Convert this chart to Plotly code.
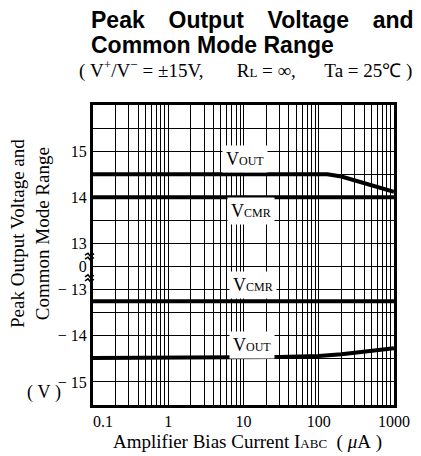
import math
import plotly.graph_objects as go

# ---------------- data ----------------
current_uA = [0.1, 1, 10, 30, 100, 130, 200, 300, 500, 700, 1000]
vout_pos = [14.5, 14.5, 14.5, 14.5, 14.5, 14.5, 14.45, 14.37, 14.27, 14.19, 14.12]
vcmr_pos = [14.0, 14.0, 14.0, 14.0, 14.0, 14.0, 14.0, 14.0, 14.0, 14.0, 14.0]
vcmr_neg = [-13.25, -13.25, -13.25, -13.25, -13.25, -13.25, -13.25, -13.25, -13.25, -13.25, -13.25]
vout_neg = [-14.48, -14.48, -14.47, -14.46, -14.44, -14.43, -14.40, -14.37, -14.33, -14.30, -14.27]

x_decades = [0.1, 1, 10, 100, 1000]
x_decade_labels = ["\u00a0\u00a0\u00a0\u00a0\u00a00.1", "1", "10", "100", "1000"]
y_label_values = [15, 14, 13, 0, -13, -14, -15]
y_label_texts = ["15", "14", "13", "0", "\u2212 13", "\u2212 14", "\u2212 15"]

# broken y axis: upper part (13..16) kept, lower part (-15.5..-13) shifted up by 25, 0 sits between
def yb(v):
    if v > 0.5:
        return v
    if v < -0.5:
        return v + 25
    return 12.5

Y_RANGE = [9.5, 16]

# page body has an 8px margin; reference pixel positions are converted by OFF
OFF = 8
W, H = 421 - OFF, 456 - OFF
L, T = 93 - OFF, 105 - OFF
R = W - (394 - OFF)
B = H - (405 - OFF)
PW, PH = W - L - R, H - T - B

def pxx(px):
    return (px - OFF - L) / PW

def pxy(py):
    return (H - B - (py - OFF)) / PH

serif = "Liberation Serif"
sans = "Liberation Sans"
NB = "\u00a0"
TS = "\u2009"

fig = go.Figure()
line_style = dict(color="black", width=4)
for ys in [vout_pos, vcmr_pos, vcmr_neg, vout_neg]:
    fig.add_trace(go.Scatter(x=current_uA, y=[yb(v) for v in ys], mode="lines",
                             line=line_style, showlegend=False, hoverinfo="skip"))

# x grid: 1..9 per decade
x_tickvals, x_ticktext = [], []
for d, lab in zip(x_decades, x_decade_labels):
    for m in range(1, 10):
        v = d * m
        if v > 1000 + 1e-9:
            break
        x_tickvals.append(v)
        x_ticktext.append(lab if m == 1 else "")

# y grid every 0.5 in broken coordinates
y_tickvals, y_ticktext = [], []
lab_map = {yb(v): t for v, t in zip(y_label_values, y_label_texts)}
k = Y_RANGE[0]
while k <= Y_RANGE[1] + 1e-9:
    y_tickvals.append(k)
    y_ticktext.append(lab_map.get(k, ""))
    k += 0.5

fig.update_xaxes(type="log", range=[-1, 3], tickvals=x_tickvals, ticktext=x_ticktext,
                 showgrid=True, gridcolor="black", gridwidth=1,
                 showline=True, linecolor="black", linewidth=3, mirror=True,
                 ticks="", tickfont=dict(family=serif, size=16, color="black"),
                 zeroline=False)
fig.update_yaxes(range=Y_RANGE, tickvals=y_tickvals, ticktext=y_ticktext,
                 showgrid=True, gridcolor="black", gridwidth=1,
                 showline=True, linecolor="black", linewidth=3, mirror=True,
                 ticks="", tickfont=dict(family=serif, size=16, color="black"),
                 zeroline=False)

# curve labels
def curve_label(text, sub, xval, yval):
    fig.add_annotation(x=math.log10(xval), y=yb(yval), xref="x", yref="y",
                       text=f"{text}<span style='font-size:12px'>{sub}</span>",
                       showarrow=False, bgcolor="white", borderpad=3,
                       font=dict(family=serif, size=18, color="black"))

curve_label("V", "OUT", 10.5, 14.83)
curve_label("V", "CMR", 12.6, 13.71)
curve_label("V", "CMR", 13.4, -12.91)
curve_label("V", "OUT", 13.0, -14.19)

# titles
gap = NB * 2 + TS
fig.add_annotation(x=pxx(89), y=pxy(20), xref="paper", yref="paper", xanchor="left", yanchor="middle",
                   text=f"<b>Peak{gap} Output{gap} Voltage{gap} and</b>", showarrow=False,
                   font=dict(family=sans, size=23, color="black"))
fig.add_annotation(x=pxx(89), y=pxy(45), xref="paper", yref="paper", xanchor="left", yanchor="middle",
                   text="<b>Common Mode Range</b>", showarrow=False,
                   font=dict(family=sans, size=23, color="black"))
fig.add_annotation(x=pxx(77), y=pxy(70), xref="paper", yref="paper", xanchor="left", yanchor="middle",
                   text=(f"({NB}V<sup>+</sup>/V<sup>\u2212</sup>{NB}={NB}\u00b115V,{NB*7}"
                         f"R<span style='font-size:13px'>L</span>{NB}={NB}\u221e,{NB*6}"
                         f"Ta{NB}={NB}25\u2103{NB})"),
                   showarrow=False, font=dict(family=serif, size=19, color="black"))

# axis titles
fig.add_annotation(x=pxx(30), y=pxy(234), xref="paper", yref="paper", xanchor="center", yanchor="middle",
                   text="Peak Output Voltage and<br>Common Mode Range", textangle=-90,
                   showarrow=False, font=dict(family=serif, size=19, color="black"))
fig.add_annotation(x=pxx(44), y=pxy(392), xref="paper", yref="paper", xanchor="center", yanchor="middle",
                   text=f"({NB}V{NB})", showarrow=False, font=dict(family=serif, size=18, color="black"))
fig.add_annotation(x=pxx(247), y=pxy(442), xref="paper", yref="paper", xanchor="center", yanchor="middle",
                   text=(f"Amplifier Bias Current I<span style='font-size:13px'>ABC</span>"
                         f"{NB*2}({NB}<i>\u03bc</i>A{NB})"),
                   showarrow=False, font=dict(family=serif, size=19, color="black"))

# axis break marks
def break_mark(yc):
    path = ""
    for dy in (-2, 2):
        pts = [(85, yc + dy + 0.5), (88, yc + dy - 1.5), (90, yc + dy + 1), (94, yc + dy - 1)]
        path += "M " + " L ".join(f"{pxx(a):.4f},{pxy(b):.4f}" for a, b in pts) + " "
    fig.add_shape(type="path", path=path.strip(), xref="paper", yref="paper",
                  line=dict(color="black", width=1.5))

break_mark(256.7)
break_mark(278.3)

fig.update_layout(width=W, height=H, margin=dict(l=L, r=R, t=T, b=B),
                  paper_bgcolor="white", plot_bgcolor="white", showlegend=False)

fig.write_html("out.html")
